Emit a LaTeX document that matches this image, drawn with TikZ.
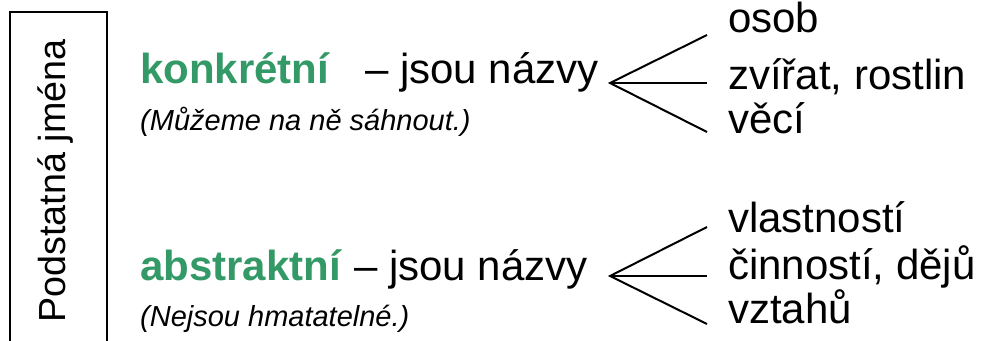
\documentclass[tikz,border=0pt]{standalone}
\usepackage{fontspec}
\setmainfont{Liberation Sans}
\definecolor{ngreen}{RGB}{51,153,102}
\tikzset{
  big/.style={font=\fontsize{42}{50}\selectfont, inner sep=0pt, anchor=base west},
  side/.style={font=\fontsize{37.7}{45}\selectfont, inner sep=0pt},
  note/.style={font=\fontsize{29}{35}\selectfont\itshape, inner sep=0pt, anchor=base west},
  kind/.style={big, font=\fontsize{42}{50}\selectfont\bfseries, text=ngreen},
  fan/.style={line width=2pt},
  frame/.style={line width=2pt}
}
\begin{document}
\begin{tikzpicture}[x=1pt,y=-1pt]
\useasboundingbox (0,0) rectangle (984,340);
\clip (0,0) rectangle (984,340);
\fill[white] (0,0) rectangle (984,340);
% frame with vertical title
\coordinate (fbl) at (10,350);
\coordinate (ftl) at (10,12);
\coordinate (ftr) at (107,12);
\coordinate (fbr) at (107,350);
\draw[frame] (fbl) -- (ftl) -- (ftr) -- (fbr);
\node[side, rotate=90, anchor=base] (title) at (65,181) {Podstatná jména};
% upper group
\node[kind] (konk) at (140,83) {konkrétní};
\node[big] (jn1) at (365,83) {– jsou názvy};
\node[note] (n1) at (140,130) {(Můžeme na ně sáhnout.)};
\node[big] (o1) at (728,32) {osob};
\node[big] (o2) at (728,89) {zvířat, rostlin};
\node[big] (o3) at (728,133) {věcí};
\coordinate (v1) at (610,83);
\coordinate (e11) at (707,35);
\coordinate (e12) at (707,83);
\coordinate (e13) at (707,132);
\draw[fan] (e11) -- (v1) -- (e13);
\draw[fan] (v1) -- (e12);
% lower group
\node[kind] (abst) at (140,280) {abstraktní};
\node[big] (jn2) at (354,280) {– jsou názvy};
\node[note] (n2) at (140,326) {(Nejsou hmatatelné.)};
\node[big] (p1) at (728,232) {vlastností};
\node[big] (p2) at (728,279) {činností, dějů};
\node[big] (p3) at (728,323) {vztahů};
\coordinate (v2) at (610,276);
\coordinate (e21) at (707,227);
\coordinate (e22) at (707,276);
\coordinate (e23) at (707,324);
\draw[fan] (e21) -- (v2) -- (e23);
\draw[fan] (v2) -- (e22);
\end{tikzpicture}
\end{document}
